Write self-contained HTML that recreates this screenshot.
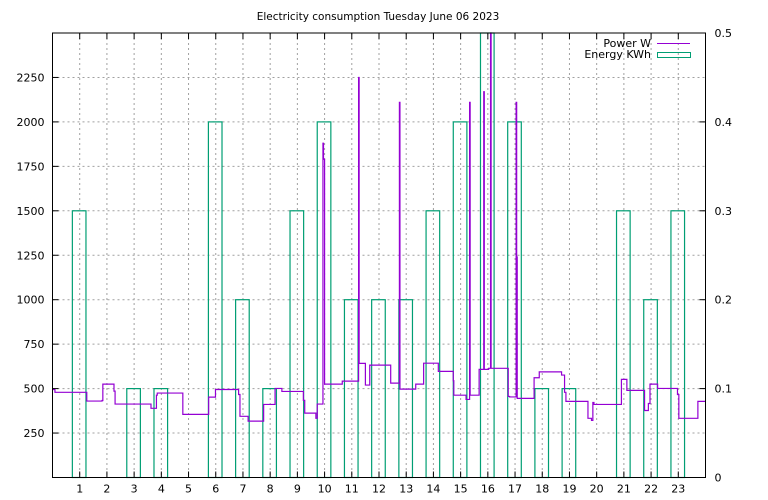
<!DOCTYPE html>
<html><head><meta charset="utf-8"><style>
html,body{margin:0;padding:0;background:#fff;}
svg{display:block;font-family:"DejaVu Sans","Liberation Sans",sans-serif;font-size:11px;}
</style></head><body>
<svg id="chart" width="768" height="500" viewBox="0 0 768 500" xmlns="http://www.w3.org/2000/svg">
<rect width="768" height="500" fill="#fff"/>
<text x="378" y="20" text-anchor="middle" font-size="10.5">Electricity consumption Tuesday June 06 2023</text>
<g id="grid"></g><g id="bars"></g><g id="line"></g><g id="axes"></g>
<g>
<text x="651" y="47" text-anchor="end">Power W</text>
<line x1="657" y1="43.5" x2="690" y2="43.5" stroke="#9400d3" stroke-width="1"/>
<text x="651" y="58" text-anchor="end">Energy KWh</text>
<rect x="657.5" y="52.5" width="33" height="5" fill="none" stroke="#009e73" stroke-width="1"/>
</g>
</svg>
<script>
const hourTicks=[1,2,3,4,5,6,7,8,9,10,11,12,13,14,15,16,17,18,19,20,21,22,23];
const powerTicks=[250,500,750,1000,1250,1500,1750,2000,2250];
const energyTicks=[0,0.1,0.2,0.3,0.4,0.5];
const energyHours=[0,1,2,3,4,5,6,7,8,9,10,11,12,13,14,15,16,17,18,19,20,21,22,23];
const energyValues=[0,0.3,0,0.1,0.1,0,0.4,0.2,0.1,0.3,0.4,0.2,0.2,0.2,0.3,0.4,0.5,0.4,0.1,0.1,0,0.3,0.2,0.3];
const powerTimes=[0,0.09,1.26,1.82,1.85,2.26,2.30,3.62,3.82,3.85,4.79,5.74,5.99,6.84,6.89,7.19,7.76,8.18,8.43,9.22,9.27,9.68,9.73,9.94,9.96,10.0,10.65,11.25,11.27,11.5,11.66,12.43,12.75,12.77,13.35,13.64,14.18,14.73,14.75,15.2,15.33,15.35,15.68,15.85,15.87,16.03,16.1,16.12,16.75,16.8,17.04,17.06,17.08,17.7,17.89,18.71,18.82,18.87,19.68,19.81,19.86,19.9,20.91,21.11,21.76,21.9,21.96,22.24,22.97,23.02,23.72];
const powerValues=[495,479,430,433,525,486,413,389,463,475,355,452,495,467,344,317,411,501,484,434,362,333,413,1880,1790,525,542,2250,642,520,632,531,2110,497,525,643,597,544,463,439,2110,463,608,2170,608,614,2500,614,456,453,2110,1240,445,561,594,576,479,428,333,321,422,411,552,490,377,416,525,501,467,333,428];
const L=52.5,R=705.5,T=33,B=477.5;
const xs=h=>L+(R-L)*h/24;
const yp=v=>B-(B-T)*v/2500;
const ye=v=>B-(B-T)*v/0.5;
const NS="http://www.w3.org/2000/svg";
function mk(tag,parent,attrs){const e=document.createElementNS(NS,tag);for(const k in attrs)e.setAttribute(k,attrs[k]);document.getElementById(parent).appendChild(e);return e;}
hourTicks.forEach(h=>{
 const g=mk('line','grid',{x1:xs(h),x2:xs(h),y1:T,y2:B,stroke:'#a0a0a0','stroke-dasharray':'2,3','stroke-width':1});
 
 
 const t=mk('line','axes',{x1:xs(h),x2:xs(h),y1:B,y2:B-6,stroke:'#000'});
 
 
 const t2=mk('line','axes',{x1:xs(h),x2:xs(h),y1:T,y2:T+6,stroke:'#000'});
 
 
 const l=mk('text','axes',{x:xs(h),y:B+15,'text-anchor':'middle'});l.textContent=h;
 
 
});
powerTicks.forEach(v=>{
 const g=mk('line','grid',{x1:L,x2:R,y1:yp(v),y2:yp(v),stroke:'#a0a0a0','stroke-dasharray':'2,3','stroke-width':1});
 
 
 const t=mk('line','axes',{x1:L,x2:L+6,y1:yp(v),y2:yp(v),stroke:'#000'});
 
 
 const l=mk('text','axes',{x:L-8,y:yp(v)+4,'text-anchor':'end'});l.textContent=v;
 
 
});
energyTicks.forEach(v=>{
 const t=mk('line','axes',{x1:R,x2:R-6,y1:ye(v),y2:ye(v),stroke:'#000'});
 
 
 const l=mk('text','axes',{x:R+9,y:ye(v)+4,'text-anchor':'start'});l.textContent=v;
 
 
});
energyHours.forEach((h,i)=>{
 const v=energyValues[i];if(v<=0)return;
 const r=mk('rect','bars',{x:xs(h-0.27),y:ye(v),width:xs(h+0.23)-xs(h-0.27),height:B-ye(v),fill:'none',stroke:'#009e73','stroke-width':1.2});
 
 
});
let d='';
powerTimes.forEach((t,i)=>{
 const y=Math.max(T,yp(powerValues[i]));
 if(i===0)d+='M'+xs(t)+','+y;else d+=' H'+xs(t)+' V'+y;
});
d+=' H'+xs(24);
const p=mk('path','line',{d:d,fill:'none',stroke:'#9400d3','stroke-width':1.2});


const fr=mk('rect','axes',{x:L,y:T,width:R-L,height:B-T,fill:'none',stroke:'#000','stroke-width':1});


</script>
</body></html>
